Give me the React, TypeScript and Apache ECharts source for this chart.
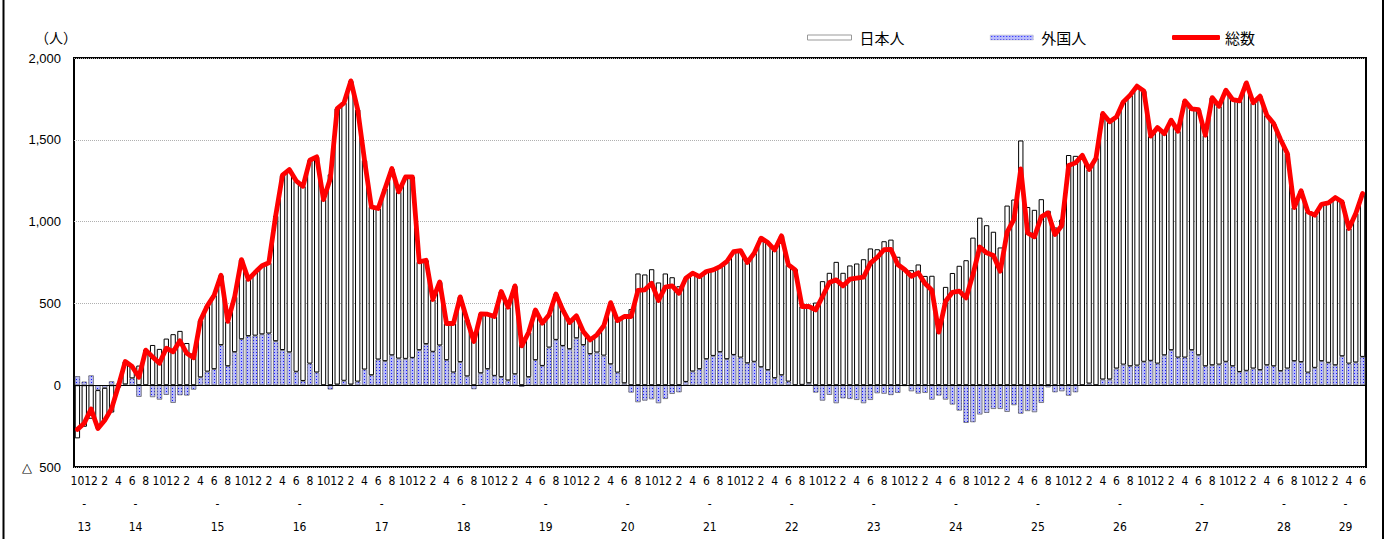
import React, { useEffect, useRef } from 'react';
import * as echarts from 'echarts';

// Heisei years, monthly from H13/10 to H29/6
const startYear = 13;
const startMonth = 10;

// 総数 (total net change, persons)
const total = [
  -270, -232, -145, -265, -214, -143, -5, 145, 114, 49, 214, 173, 134, 226, 204, 271, 195, 168,
  397, 485, 550, 672, 390, 540, 768, 647, 690, 730, 748, 1035, 1284, 1318, 1249, 1216, 1375, 1396,
  1135, 1263, 1691, 1726, 1860, 1685, 1375, 1090, 1080, 1202, 1324, 1182, 1273, 1273, 754, 764,
  524, 631, 377, 377, 540, 400, 267, 436, 434, 420, 573, 477, 607, 240, 322, 460, 379, 430,
  558, 460, 383, 424, 328, 277, 308, 363, 505, 395, 420, 420, 579, 583, 623, 518, 599, 607,
  562, 654, 685, 664, 695, 705, 725, 756, 817, 823, 750, 807, 899, 872, 827, 913, 736, 705,
  481, 481, 460, 542, 628, 644, 607, 648, 654, 660, 746, 782, 828, 830, 738, 707, 666, 687,
  621, 581, 324, 513, 568, 575, 534, 676, 845, 809, 793, 697, 935, 1013, 1322, 931, 907, 1029,
  1053, 921, 976, 1343, 1359, 1405, 1318, 1388, 1661, 1610, 1640, 1732, 1773, 1828, 1799, 1522,
  1575, 1538, 1620, 1553, 1738, 1689, 1685, 1528, 1758, 1705, 1803, 1746, 1738, 1848, 1726, 1767,
  1650, 1599, 1502, 1416, 1086, 1188, 1060, 1039, 1106, 1115, 1147, 1121, 958, 1049, 1172,
];

// 外国人 (foreign residents, persons)
const foreign = [
  55, 22, 60, -30, -16, 24, 10, 5, 42, -71, -3, -73, -88, -59, -108, -61, -63, -27,
  48, 83, 98, 245, 116, 202, 281, 300, 303, 311, 316, 269, 215, 201, 82, 26, 132, 78,
  -2, -26, 4, 27, 4, 22, 96, 61, 157, 147, 183, 163, 161, 167, 214, 251,
  204, 243, 153, 78, 141, 54, -24, 73, 98, 57, 49, 29, 67, -10, 49, 153, 118, 230,
  277, 240, 220, 287, 245, 190, 200, 181, 128, 77, 12, -45, -104, -94, -86, -110, -84, -53,
  -43, 20, 84, 98, 159, 179, 202, 159, 185, 169, 134, 143, 110, 92, 43, 61, 22, -4,
  2, 12, -45, -94, -59, -110, -80, -84, -90, -110, -90, -49, -52, -60, -47, -5, -37, -51,
  -47, -88, -63, -88, -118, -155, -230, -226, -179, -169, -145, -145, -163, -122, -174, -158, -165, -108,
  -13, -43, -37, -64, -43, 0, 10, 0, 35, 35, 102, 126, 116, 120, 143, 149, 132, 183,
  214, 169, 169, 214, 183, 116, 122, 126, 143, 116, 81, 88, 102, 92, 122, 116, 86, 102,
  147, 141, 77, 106, 147, 137, 122, 177, 132, 139, 173,
];

const yTicks = [-500, 0, 500, 1000, 1500, 2000];
const seriesNames = ['日本人', '外国人', '総数'];

const W = 1393;
const H = 539;
const CJK = '"Noto Sans CJK JP", sans-serif';
const NUM = '"Liberation Sans", Arial, sans-serif';
const NARROW = '"Liberation Sans Narrow", "DejaVu Sans Condensed", "Liberation Sans", sans-serif';

export default function App() {
  const ref = useRef<HTMLDivElement>(null);
  useEffect(() => {
    if (!ref.current) return;
    const chart = echarts.init(ref.current, null, { renderer: 'svg' });
    const n = total.length;
    const months: string[] = [];
    const years: number[] = [];
    for (let i = 0; i < n; i++) {
      const k = startMonth - 1 + i;
      months.push(String((k % 12) + 1));
      years.push(startYear + Math.floor(k / 12));
    }
    const japanese = total.map((t, i) => t - foreign[i]);
    // half-month positions for year labels centered over their months
    const yearAxis: string[] = new Array(2 * n + 1).fill('');
    let a = 0;
    for (let i = 1; i <= n; i++) {
      if (i === n || years[i] !== years[a]) {
        const b = i - 1;
        yearAxis[a + b + 1] = String(years[a]);
        a = i;
      }
    }

    const c = document.createElement('canvas');
    c.width = 3;
    c.height = 3;
    const ctx = c.getContext('2d')!;
    ctx.fillStyle = '#babdfb';
    ctx.fillRect(0, 0, 3, 3);
    ctx.fillStyle = '#1616ff';
    ctx.fillRect(1, 1, 1, 1);
    const pattern: any = { image: c, repeat: 'repeat' };

    const legendBase = {
      top: 30,
      padding: 0,
      itemHeight: 5,
      selectedMode: false,
      textStyle: { fontSize: 15, fontFamily: CJK, color: '#000', padding: [0, 0, 0, 3] },
    };

    chart.setOption({
      animation: false,
      backgroundColor: '#fff',
      grid: {
        left: 74,
        right: W - 1366,
        top: 58,
        bottom: H - 467,
        show: true,
        borderColor: '#000',
        borderWidth: 2,
        backgroundColor: 'transparent',
      },
      legend: [
        { ...legendBase, left: 807, itemWidth: 44, data: [{ name: seriesNames[0], icon: 'rect' }],
          itemStyle: { color: '#fff', borderColor: '#999', borderWidth: 1 } },
        { ...legendBase, left: 990, itemWidth: 43, data: [{ name: seriesNames[1], icon: 'rect' }],
          itemStyle: { borderColor: '#bbb', borderWidth: 0.5 } },
        { ...legendBase, left: 1172, itemWidth: 48, data: [{ name: seriesNames[2], icon: 'roundRect' }],
          itemStyle: { color: '#ff0000', borderWidth: 0 },
          textStyle: { ...legendBase.textStyle, padding: 0 } },
      ],
      xAxis: [
        {
          type: 'category',
          data: months,
          axisLine: { show: false, onZero: false },
          axisTick: { show: false },
          splitLine: { show: false },
          axisLabel: {
            interval: (i: number) => Number(months[i]) % 2 === 0,
            fontSize: 12,
            fontFamily: NARROW,
            color: '#000',
            margin: 8,
            hideOverlap: false,
          },
        },
        {
          type: 'category',
          data: yearAxis,
          boundaryGap: false,
          position: 'bottom',
          axisLine: { show: false, onZero: false },
          axisTick: { show: false },
          splitLine: { show: false },
          axisLabel: {
            interval: (_i: number, v: string) => v !== '',
            formatter: (v: string) => `-\n${v}`,
            fontSize: 12,
            lineHeight: 23,
            fontFamily: NARROW,
            color: '#000',
            margin: 25,
            hideOverlap: false,
          },
        },
      ],
      yAxis: {
        type: 'value',
        min: yTicks[0],
        max: yTicks[yTicks.length - 1],
        interval: 500,
        axisLine: { show: false },
        axisTick: { show: false },
        axisLabel: {
          fontSize: 13,
          fontFamily: NUM,
          color: '#000',
          margin: 13,
          formatter: (v: number) => (v < 0 ? `△  ${-v}` : v.toLocaleString('en-US')),
        },
        splitLine: { show: true, lineStyle: { color: '#b0b0b0', type: [1, 1], width: 1 } },
      },
      series: [
        {
          name: seriesNames[1],
          type: 'bar',
          stack: 'all',
          data: foreign,
          barCategoryGap: '22%',
          itemStyle: { color: pattern, borderColor: '#555', borderWidth: 0.7 },
          z: 2,
        },
        {
          name: seriesNames[0],
          type: 'bar',
          stack: 'all',
          data: japanese,
          barCategoryGap: '22%',
          itemStyle: { color: '#fff', borderColor: '#000', borderWidth: 1 },
          z: 2,
          markLine: {
            silent: true,
            symbol: 'none',
            label: { show: false },
            lineStyle: { color: '#000', width: 1, type: 'solid' },
            data: [{ yAxis: 0 }],
          },
        },
        {
          name: seriesNames[2],
          type: 'line',
          data: total,
          symbol: 'none',
          showSymbol: false,
          lineStyle: { color: '#ff0000', width: 4.8, cap: 'round', join: 'round' },
          itemStyle: { color: '#ff0000' },
          z: 5,
        },
      ],
      graphic: [
        { type: 'text', left: 35, top: 30, style: { text: '（人）', fontSize: 14, fontFamily: CJK, fill: '#000' } },
        { type: 'line', shape: { x1: 3.5, y1: 0, x2: 3.5, y2: H }, style: { stroke: '#000', lineWidth: 2 } },
        { type: 'line', shape: { x1: 1383, y1: 0, x2: 1383, y2: H }, style: { stroke: '#000', lineWidth: 2 } },
      ],
    });
    return () => chart.dispose();
  }, []);
  return <div ref={ref} style={{ position: 'absolute', left: 0, top: 0, width: W, height: H }} />;
}
